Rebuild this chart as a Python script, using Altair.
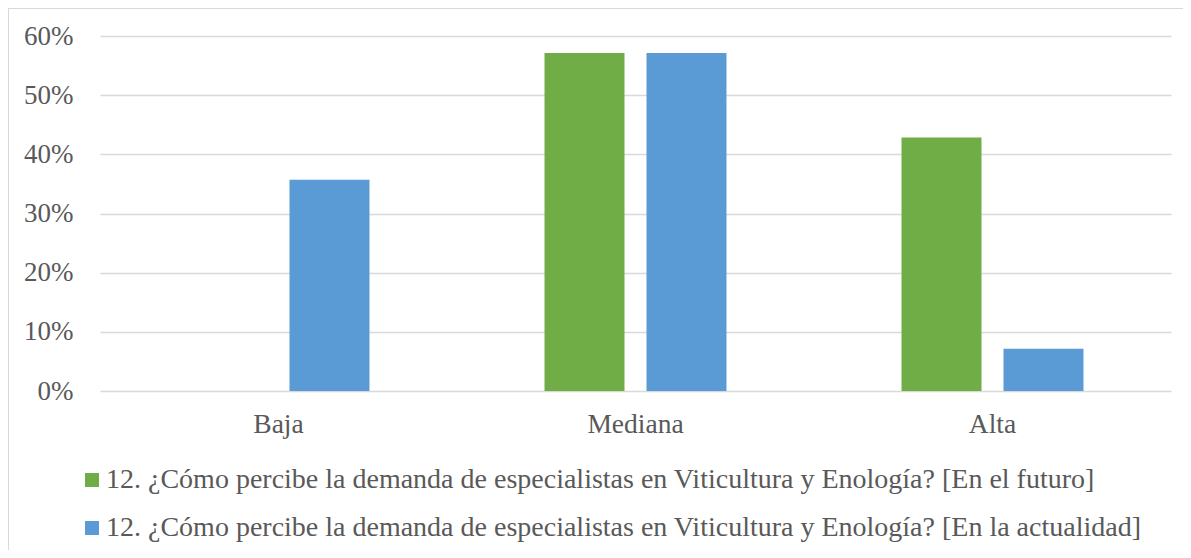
import altair as alt
import pandas as pd

categories = ["Baja", "Mediana", "Alta"]
series_names = [
    "12. ¿Cómo percibe la demanda de especialistas en Viticultura y Enología? [En el futuro]",
    "12. ¿Cómo percibe la demanda de especialistas en Viticultura y Enología? [En la actualidad]",
]
futuro = [0.0, 0.5714, 0.4286]
actualidad = [0.3571, 0.5714, 0.0714]
colors = ["#70AD47", "#5B9BD5"]

rows = []
for i, c in enumerate(categories):
    rows.append({"cat": c, "serie": series_names[0], "val": futuro[i]})
    rows.append({"cat": c, "serie": series_names[1], "val": actualidad[i]})
df = pd.DataFrame(rows)

FONT = "Liberation Serif, Times New Roman, serif"
TXT = "#595959"

bars = alt.Chart(df).mark_bar().encode(
    x=alt.X("cat:N", sort=categories, title=None,
            scale=alt.Scale(paddingInner=0, paddingOuter=0),
            axis=alt.Axis(labelAngle=0, domain=False, ticks=False, labelFontSize=27.5,
                          labelPadding=19, labelColor=TXT, labelFont=FONT)),
    xOffset=alt.XOffset("serie:N", sort=series_names,
                        scale=alt.Scale(paddingInner=0.2157, paddingOuter=0.858)),
    y=alt.Y("val:Q", title=None,
            scale=alt.Scale(domain=[0, 0.6], nice=False),
            axis=alt.Axis(format=".0%", values=[0, 0.1, 0.2, 0.3, 0.4, 0.5, 0.6],
                          domain=False, ticks=False, labelFontSize=27, labelPadding=27,
                          labelColor=TXT, labelFont=FONT, gridColor="#D9D9D9",
                          gridWidth=1.5)),
    color=alt.Color("serie:N", sort=series_names,
                    scale=alt.Scale(domain=series_names, range=colors),
                    legend=alt.Legend(title=None, orient="none", legendX=-22, legendY=430,
                                      direction="vertical", symbolType="square",
                                      symbolSize=196, symbolStrokeWidth=0,
                                      labelFontSize=28, labelFont=FONT, labelColor=TXT,
                                      labelLimit=2000, rowPadding=20, labelOffset=0)),
)

frame_left = alt.Chart(df).mark_rule(color="#D9D9D9", strokeWidth=2, clip=False).encode(
    x=alt.value(-92), y=alt.value(-28), y2=alt.value(600))
frame_top = alt.Chart(df).mark_rule(color="#D9D9D9", strokeWidth=2, clip=False).encode(
    x=alt.value(-92), x2=alt.value(1200), y=alt.value(-28))

chart = alt.layer(frame_left, frame_top, bars).properties(
    width=1071, height=355,
    background="white",
    autosize=alt.AutoSizeParams(type="none"),
    padding={"left": 92, "top": 28, "right": 12, "bottom": 159},
).configure_view(stroke="transparent", strokeWidth=0).configure_text(font=FONT)

chart.save("out.html", embed_options={"renderer": "svg", "actions": False})
